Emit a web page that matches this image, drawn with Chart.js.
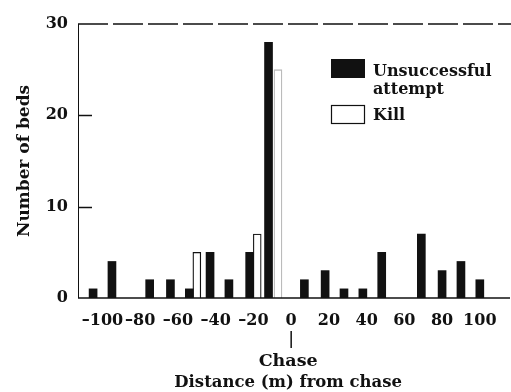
<!DOCTYPE html>
<html>
<head>
<meta charset="utf-8">
<script src="https://cdn.jsdelivr.net/npm/chart.js@4/dist/chart.umd.min.js"></script>
<style>
  html, body { margin: 0; padding: 0; background: #fff; }
  #wrap { width: 511px; height: 392px; }
</style>
</head>
<body>
<div id="wrap"><canvas id="myChart"></canvas></div>
<script>
// bed positions (m from chase) and number of beds
var missX = [-105, -95, -75, -64, -54, -43, -33, -22, -12, 7, 18, 28, 38, 48, 69, 80, 90, 100];
var missY = [1, 4, 2, 2, 1, 5, 2, 5, 28, 2, 3, 1, 1, 5, 7, 3, 4, 2];
var killX = [-50, -18, -7];
var killY = [5, 7, 25];
var xTicks = [-100, -80, -60, -40, -20, 0, 20, 40, 60, 80, 100];
var yTicks = [0, 10, 20, 30];
var missLabel = ['Unsuccessful', 'attempt'];
var killLabel = ['Kill'];
var xTitle = 'Distance (m) from chase';
var yTitle = 'Number of beds';
var chaseLabel = 'Chase';

var serif = '"DejaVu Serif", serif';

function pts(xs, ys) {
	return xs.map(function(x, i){ return {x: x, y: ys[i]}; });
}

// axes frame, legend and the chase marker
var decor = {
	id: 'decor',
	afterDraw: function(chart){
		var ctx = chart.ctx;
		var a = chart.chartArea;
		var ys = chart.scales.y, xs = chart.scales.x;
		ctx.save();
		ctx.strokeStyle = '#111';

		// left axis
		ctx.lineWidth = 1;
		ctx.beginPath(); ctx.moveTo(a.left + 0.5, a.top); ctx.lineTo(a.left + 0.5, a.bottom); ctx.stroke();
		// bottom axis
		ctx.lineWidth = 1.5;
		ctx.beginPath(); ctx.moveTo(a.left, a.bottom); ctx.lineTo(a.right, a.bottom); ctx.stroke();
		// top dashed border
		ctx.setLineDash([30, 5]);
		ctx.beginPath(); ctx.moveTo(a.left, a.top); ctx.lineTo(chart.width, a.top); ctx.stroke();
		ctx.setLineDash([]);
		// inner ticks
		yTicks.forEach(function(v){
			if (v === 0 || v === 30) return;
			var py = Math.round(ys.getPixelForValue(v)) + 0.5;
			ctx.beginPath(); ctx.moveTo(a.left, py); ctx.lineTo(a.left + 14, py); ctx.stroke();
		});

		// legend
		ctx.fillStyle = '#111';
		ctx.fillRect(331, 59, 34, 19);
		ctx.lineWidth = 1.2;
		ctx.strokeRect(331.5, 105.5, 33, 18);
		ctx.font = 'bold 16px ' + serif;
		ctx.textAlign = 'left';
		ctx.textBaseline = 'alphabetic';
		ctx.fillText(missLabel[0], 373, 76);
		ctx.fillText(missLabel[1], 373, 94);
		ctx.fillText(killLabel[0], 373, 120);

		// chase marker under 0
		var cx = xs.getPixelForValue(0);
		ctx.lineWidth = 1.5;
		ctx.beginPath(); ctx.moveTo(cx, 331); ctx.lineTo(cx, 348); ctx.stroke();
		ctx.textAlign = 'center';
		ctx.font = 'bold 17.5px ' + serif;
		ctx.fillText(chaseLabel, cx - 3, 366);
		ctx.font = 'bold 16.5px ' + serif;
		ctx.fillText(xTitle, cx - 3, 387);
		ctx.restore();
	}
};

var ctx = document.getElementById('myChart').getContext('2d');
var chart = new Chart(ctx, {
	type: 'bar',
	data: {
		datasets: [{
			label: 'Unsuccessful attempt',
			data: pts(missX, missY),
			backgroundColor: '#111',
			borderWidth: 0,
			barThickness: 8
		}, {
			label: 'Kill',
			data: pts(killX, killY),
			backgroundColor: '#fff',
			borderColor: ['#111', '#222', '#bbb'],
			borderWidth: 1.3,
			barThickness: 8
		}]
	},
	options: {
		responsive: true,
		maintainAspectRatio: false,
		animation: false,
		grouped: false,
		layout: { padding: { top: 24, right: 1, left: 0, bottom: 0 } },
		plugins: { legend: { display: false }, tooltip: { enabled: false } },
		scales: {
			x: {
				type: 'linear',
				min: -113,
				max: 116,
				offset: false,
				grid: { display: false, drawTicks: false },
				border: { display: false },
				afterBuildTicks: function(s){ s.ticks = xTicks.map(function(v){ return {value: v}; }); },
				afterFit: function(s){ s.height = 94; },
				ticks: {
					padding: 13,
					color: '#111',
					maxRotation: 0,
					minRotation: 0,
					autoSkip: false,
					font: { family: serif, size: 16, weight: 'bold' },
					callback: function(v){ return v < 0 ? '\u2013' + Math.abs(v) : String(v); }
				}
			},
			y: {
				min: 0,
				max: 30,
				grid: { display: false, drawTicks: false },
				border: { display: false },
				afterBuildTicks: function(s){ s.ticks = yTicks.map(function(v){ return {value: v}; }); },
				afterFit: function(s){ s.width = 78; },
				ticks: {
					padding: 10,
					color: '#111',
					font: { family: serif, size: 16, weight: 'bold' }
				},
				title: {
					display: true,
					text: yTitle,
					color: '#111',
					padding: { top: 14, bottom: 0 },
					font: { family: serif, size: 17, weight: 'bold' }
				}
			}
		}
	},
	plugins: [decor]
});
</script>
</body>
</html>
